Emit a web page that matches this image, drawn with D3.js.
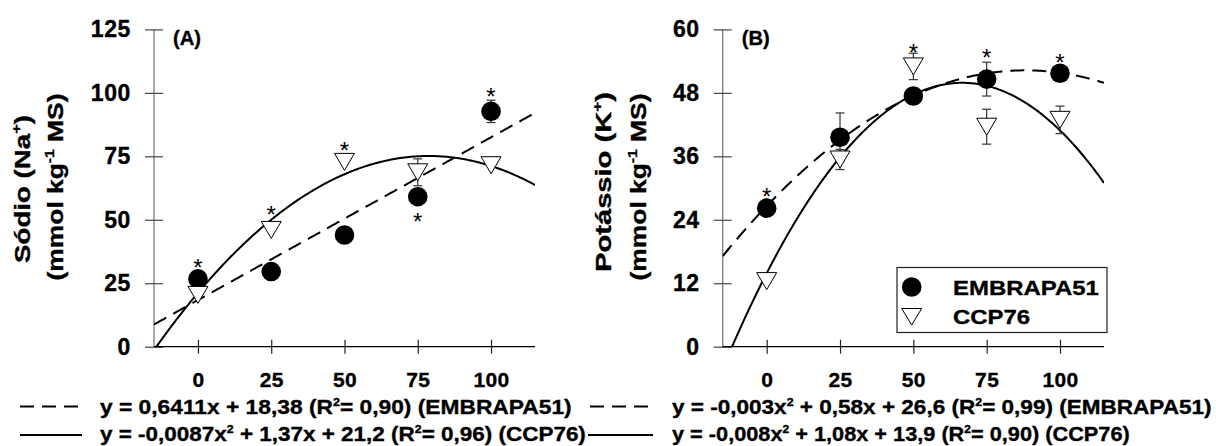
<!DOCTYPE html>
<html><head><meta charset="utf-8">
<script src="https://cdn.jsdelivr.net/npm/d3@7"></script>
<style>
body{margin:0;background:#fff;}
svg{display:block;font-family:"Liberation Sans",Arial,sans-serif;}
text.b, .tick text{stroke:#000;stroke-width:0.35px;}
</style></head>
<body>
<svg id="chart" width="1216" height="446"></svg>
<script>
// ---------- data ----------
const doses = [0, 25, 50, 75, 100];
const xTicks = [0, 25, 50, 75, 100];
const sodioTicks = [0, 25, 50, 75, 100, 125];
const potTicks = [0, 12, 24, 36, 48, 60];

const sodioEmbrapa = [26.7, 29.6, 44.0, 59.1, 92.7];
const sodioEmbrapaErr = [0, 0, 0, 0, 4.4];
const sodioCcp = [20.4, 46.0, 72.8, 68.7, 71.5];
const sodioCcpErr = [0, 0, 0, 5.3, 0];
const sodioStars = [[0, 33.5], [25, 54.3], [50, 79.6], [75, 51.3], [100, 100.6]];

const potEmbrapa = [26.2, 39.6, 47.4, 50.6, 51.7];
const potEmbrapaErr = [0, 4.6, 0, 3.2, 1.0];
const potCcp = [12.4, 35.4, 53.0, 41.6, 42.9];
const potCcpErr = [0, 1.9, 2.5, 3.3, 2.6];
const potStars = [[0, 29.5], [50, 56.7], [75, 55.8], [100, 54.8]];

// fitted curves (a, b, c of a*x^2 + b*x + c), unrounded as drawn
const sodioFitEmbrapa = [0, 0.6411, 18.38];
const sodioFitCcp = [-0.0087, 1.37, 21.2];
const potFitEmbrapa = [-0.0033, 0.582, 26.6];
const potFitCcp = [-0.0081, 1.08, 13.9];

// equation labels ("^" marks a superscript piece)
const eqSodioEmbrapa = ["y = 0,6411x + 18,38 (R", "^2", "= 0,90) (EMBRAPA51)"];
const eqSodioCcp = ["y = -0,0087x", "^2", " + 1,37x + 21,2 (R", "^2", "= 0,96) (CCP76)"];
const eqPotEmbrapa = ["y = -0,003x", "^2", " + 0,58x + 26,6 (R", "^2", "= 0,99) (EMBRAPA51)"];
const eqPotCcp = ["y = -0,008x", "^2", " + 1,08x + 13,9 (R", "^2", "= 0,90) (CCP76)"];

const seriesNames = ["EMBRAPA51", "CCP76"];

// ---------- helpers ----------
const svg = d3.select("#chart");

function quad(c) { return x => c[0] * x * x + c[1] * x + c[2]; }

function richText(parent, segs, fontSize, supSize) {
  const t = parent.append("text").attr("class", "b").attr("font-size", fontSize)
    .attr("font-weight", "bold").attr("fill", "#000");
  let raised = false;
  const shift = Math.round(0.42 * fontSize);
  segs.forEach(s => {
    const isSup = s.startsWith("^");
    const ts = t.append("tspan").text(isSup ? s.slice(1) : s);
    if (isSup) { ts.attr("font-size", supSize).attr("dy", -shift); raised = true; }
    else if (raised) { ts.attr("dy", shift); raised = false; }
  });
  return t;
}
// stretch text along its reading direction to a target length
function placeH(t, x, y, target) {
  const w = t.node().getComputedTextLength();
  t.attr("transform", `translate(${x},${y}) scale(${target / w},1)`);
}
function placeV(t, cx, cy, target) {
  t.attr("text-anchor", "middle");
  const w = t.node().getComputedTextLength();
  t.attr("transform", `translate(${cx},${cy}) rotate(-90) scale(${target / w},1)`);
}

function panel(opt) {
  const x = d3.scaleLinear().domain([-15, 115]).range([opt.x0, opt.x1]);
  const y = d3.scaleLinear().domain([0, opt.yMax]).range([346.7, 29.4]);
  const g = svg.append("g");

  const clipId = "clip" + opt.id;
  svg.append("clipPath").attr("id", clipId).append("rect")
    .attr("x", x(-15)).attr("y", 0).attr("width", x(115) - x(-15)).attr("height", y(0));

  // Y axis
  const ya = g.append("g").attr("transform", `translate(${x(-15)},0)`)
    .call(d3.axisLeft(y).tickValues(opt.yTicks).tickSize(9));
  ya.select(".domain").attr("stroke", "#7a7a7a").attr("stroke-width", 1.3).attr("d", `M0,${y(0)}V${y(opt.yMax)}`);
  ya.selectAll(".tick line").attr("x1", -9).attr("x2", 9).attr("stroke", "#444").attr("stroke-width", 1.2);
  ya.selectAll(".tick text").attr("font-size", 23).attr("font-weight", "bold")
    .attr("fill", "#000").attr("x", -23).attr("letter-spacing", 0.6)
    .attr("font-family", "Liberation Sans, Arial, sans-serif");

  // X axis
  const xa = g.append("g").attr("transform", `translate(0,${y(0)})`)
    .call(d3.axisBottom(x).tickValues(opt.xTicks).tickSize(6));
  xa.select(".domain").attr("stroke", "#000").attr("stroke-width", 1.2).attr("d", `M${x(-15)},0H${x(115)}`);
  xa.selectAll(".tick line").attr("y1", -7).attr("y2", 7).attr("stroke", "#222").attr("stroke-width", 1.2);
  xa.selectAll(".tick text").attr("font-size", 21).attr("font-weight", "bold")
    .attr("fill", "#000").attr("y", 40).attr("dy", 0).attr("letter-spacing", 0.4)
    .attr("font-family", "Liberation Sans, Arial, sans-serif");

  // panel label
  const pl = g.append("text").attr("class", "b").attr("font-size", 20).attr("font-weight", "bold").text(opt.label);
  placeH(pl, x(-15) + 19, 45, 28);

  // y title (two lines)
  placeV(richText(g, opt.title1, 22, 13), opt.titleX1, opt.titleY1, opt.titleLen1);
  placeV(richText(g, ["(mmol kg", "^-1", " MS)"], 22, 13), opt.titleX2, opt.titleY2, opt.titleLen2);

  // fitted curves
  const xs = d3.range(-15, 115.01, 0.5);
  const lineE = d3.line().x(d => x(d)).y(d => y(opt.fitE(d)));
  const lineC = d3.line().x(d => x(d)).y(d => y(opt.fitC(d)));
  g.append("path").attr("clip-path", `url(#${clipId})`).attr("d", lineE(xs))
    .attr("fill", "none").attr("stroke", "#000").attr("stroke-width", 2).attr("stroke-dasharray", "14,8");
  g.append("path").attr("clip-path", `url(#${clipId})`).attr("d", lineC(xs))
    .attr("fill", "none").attr("stroke", "#000").attr("stroke-width", 2);

  // error bars
  function errBars(vals, errs) {
    doses.forEach((d, i) => {
      if (!errs[i]) return;
      const cx = x(d), top = y(vals[i] + errs[i]), bot = y(vals[i] - errs[i]);
      g.append("line").attr("x1", cx).attr("x2", cx).attr("y1", top).attr("y2", bot)
        .attr("stroke", "#333").attr("stroke-width", 1.2);
      [top, bot].forEach(yy => g.append("line").attr("x1", cx - 4.5).attr("x2", cx + 4.5)
        .attr("y1", yy).attr("y2", yy).attr("stroke", "#333").attr("stroke-width", 1.2));
    });
  }
  errBars(opt.embrapa, opt.embrapaErr);
  errBars(opt.ccp, opt.ccpErr);

  // markers
  g.selectAll(".circ").data(opt.embrapa).join("circle")
    .attr("cx", (v, i) => x(doses[i])).attr("cy", v => y(v)).attr("r", 9.8).attr("fill", "#000");
  g.selectAll(".tri").data(opt.ccp).join("path")
    .attr("d", (v, i) => {
      const cx = x(doses[i]), cy = y(v);
      return `M${cx - 10},${cy - 8.5}L${cx + 10},${cy - 8.5}L${cx},${cy + 8.5}Z`;
    })
    .attr("fill", "#fff").attr("stroke", "#000").attr("stroke-width", 1);

  // significance asterisks
  g.selectAll(".star").data(opt.stars).join("text")
    .attr("x", d => x(d[0])).attr("y", d => y(d[1]) + 14)
    .attr("text-anchor", "middle").attr("font-size", 24).text("*");

  return { x, y, g };
}

panel({
  id: "A", x0: 154, x1: 535, yMax: 125, yTicks: sodioTicks, xTicks,
  label: "(A)", title1: ["Sódio (Na", "^+", ")"],
  titleX1: 30, titleY1: 189, titleLen1: 148, titleX2: 63, titleY2: 187, titleLen2: 187,
  fitE: quad(sodioFitEmbrapa), fitC: quad(sodioFitCcp),
  embrapa: sodioEmbrapa, embrapaErr: sodioEmbrapaErr, ccp: sodioCcp, ccpErr: sodioCcpErr,
  stars: sodioStars
});
panel({
  id: "B", x0: 722.7, x1: 1104, yMax: 60, yTicks: potTicks, xTicks,
  label: "(B)", title1: ["Potássio (K", "^+", ")"],
  titleX1: 611, titleY1: 182, titleLen1: 180, titleX2: 646, titleY2: 187, titleLen2: 187,
  fitE: quad(potFitEmbrapa), fitC: quad(potFitCcp),
  embrapa: potEmbrapa, embrapaErr: potEmbrapaErr, ccp: potCcp, ccpErr: potCcpErr,
  stars: potStars
});

// legend (panel B)
const lg = svg.append("g");
lg.append("rect").attr("x", 897).attr("y", 267.5).attr("width", 210).attr("height", 65)
  .attr("fill", "#fff").attr("stroke", "#222").attr("stroke-width", 1.2);
lg.append("circle").attr("cx", 911.7).attr("cy", 287).attr("r", 9.8).attr("fill", "#000");
lg.append("path").attr("d", "M901.7,308.5L921.7,308.5L911.7,325Z")
  .attr("fill", "#fff").attr("stroke", "#000");
const lt1 = richText(lg, [seriesNames[0]], 21, 12);
const w1 = lt1.node().getComputedTextLength();
const ls = 146 / w1;
lt1.attr("transform", `translate(953,295) scale(${ls},1)`);
const lt2 = richText(lg, [seriesNames[1]], 21, 12);
lt2.attr("transform", `translate(953,323.5) scale(${ls},1)`);

// equations
function sample(x1, x2, yPos, dashed) {
  svg.append("line").attr("x1", x1).attr("x2", x2).attr("y1", yPos).attr("y2", yPos)
    .attr("stroke", "#000").attr("stroke-width", 2).attr("stroke-dasharray", dashed ? "14,8" : null);
}
sample(20, 78, 406.5, true);
placeH(richText(svg, eqSodioEmbrapa, 20, 11), 100, 414, 472);
sample(20, 82, 435, false);
placeH(richText(svg, eqSodioCcp, 20, 11), 100, 441, 486);
sample(590, 648, 406.5, true);
placeH(richText(svg, eqPotEmbrapa, 20, 11), 672, 414, 540);
sample(588, 653, 435, false);
placeH(richText(svg, eqPotCcp, 20, 11), 672, 441, 458);
</script>
</body></html>
